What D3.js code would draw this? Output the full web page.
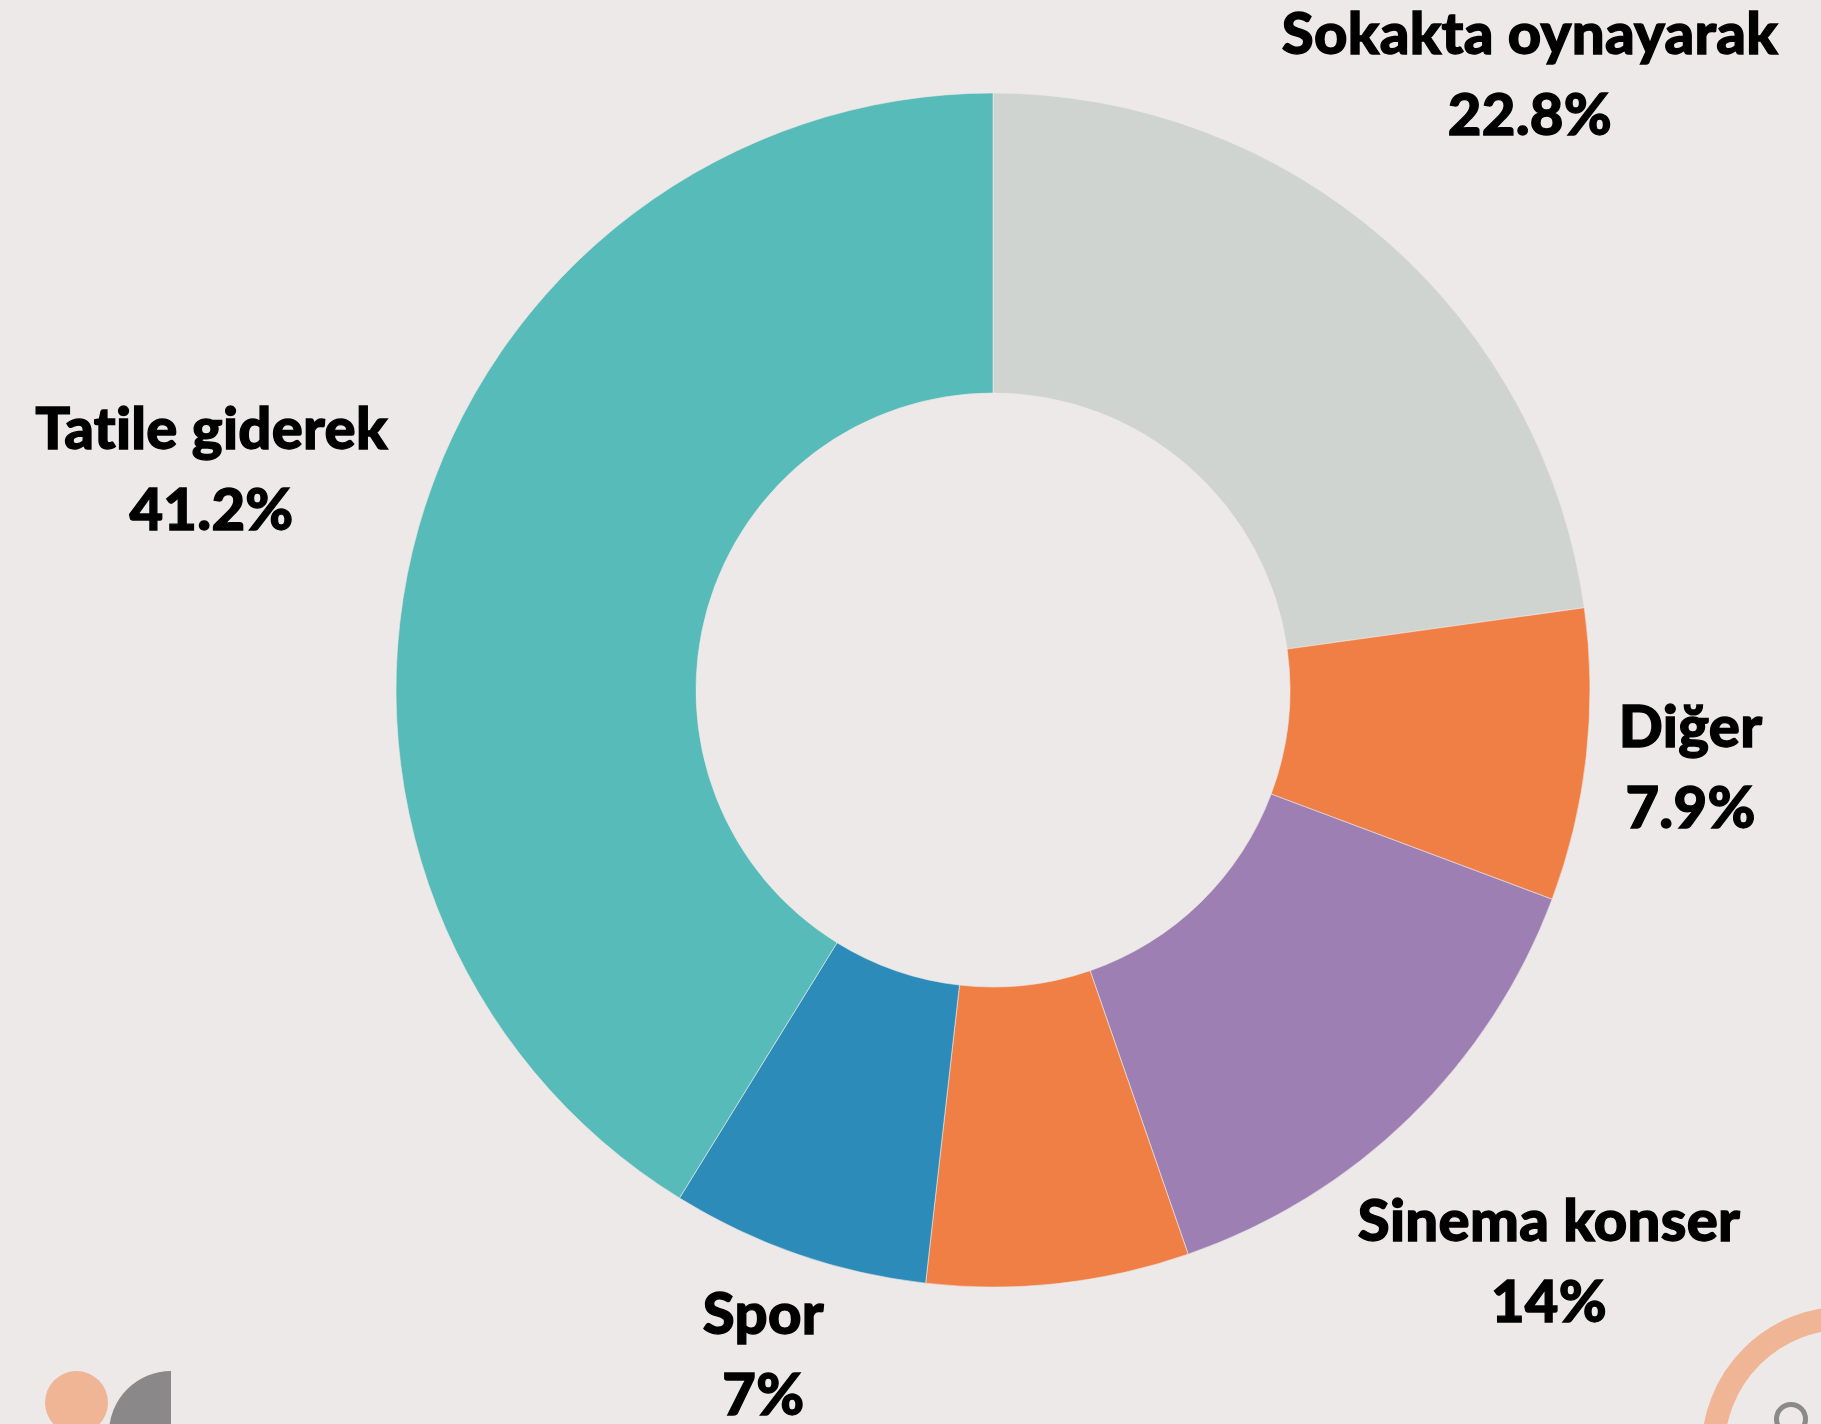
<!DOCTYPE html>
<html>
<head>
<meta charset="utf-8">
<script src="https://cdn.jsdelivr.net/npm/d3@7"></script>
<style>
  html, body { margin: 0; padding: 0; background: #ede9e8; }
  svg { display: block; }
  text { font-family: "Lato", "Noto Sans", sans-serif; font-weight: 900; fill: #000;
         stroke: #000; stroke-width: 1.3; paint-order: stroke;
         font-variant-ligatures: none; font-feature-settings: "liga" 0; letter-spacing: 0.3px; }
</style>
</head>
<body>
<svg id="chart" width="1821" height="1424"></svg>
<script>
const categories = ["Sokakta oynayarak", "Diğer", "Sinema konser", "", "Spor", "Tatile giderek"];
const values = [22.8, 7.9, 14, 7.1, 7, 41.2];
const valueLabels = ["22.8%", "7.9%", "14%", "", "7%", "41.2%"];
const colors = ["#d0d4d0", "#f07f45", "#9d7fb3", "#f07f45", "#2d8bb9", "#57bcb9"];

const W = 1821, H = 1424;
const cx = 993, cy = 690;
const outerR = 597, innerR = 297;
const labelR = 626;
const fontSize = 58;
const lineGap = 81;

const svg = d3.select("#chart");
svg.append("rect").attr("width", W).attr("height", H).attr("fill", "#ede9e8");

const data = categories.map((c, i) => ({ name: c, value: values[i], label: valueLabels[i], color: colors[i] }));

const pie = d3.pie().value(d => d.value).sort(null);
const arcs = pie(data);
const arc = d3.arc().innerRadius(innerR).outerRadius(outerR);

const g = svg.append("g").attr("transform", `translate(${cx},${cy})`);
g.selectAll("path.slice").data(arcs).join("path")
  .attr("class", "slice")
  .attr("d", arc)
  .attr("fill", d => d.data.color)
  .attr("stroke", "#ede9e8")
  .attr("stroke-width", 0.6);

// labels
const capH = fontSize * 0.72;
arcs.forEach(a => {
  if (!a.data.name) return;
  const lg = g.append("g");
  const t1 = lg.append("text").attr("text-anchor", "middle").attr("font-size", fontSize).attr("y", 0).text(a.data.name);
  const t2 = lg.append("text").attr("text-anchor", "middle").attr("font-size", fontSize).attr("y", lineGap).text(a.data.label);
  const w = Math.max(t1.node().getComputedTextLength(), t2.node().getComputedTextLength());
  const hw = w / 2;
  const hh = (lineGap + capH) / 2;
  const yOff = (lineGap - capH) / 2; // ink box center relative to first baseline
  const mid = (a.startAngle + a.endAngle) / 2;
  const dx = Math.sin(mid), dy = -Math.cos(mid);
  const dist = t => {
    const bx = Math.abs(t * dx) - hw, by = Math.abs(t * dy) - hh;
    return Math.hypot(Math.max(0, bx), Math.max(0, by));
  };
  let lo = 0, hi = 2000;
  for (let k = 0; k < 60; k++) {
    const m = (lo + hi) / 2;
    if (dist(m) < labelR) lo = m; else hi = m;
  }
  const bxc = lo * dx, byc = lo * dy;
  lg.attr("transform", `translate(${bxc},${byc - yOff})`);
});

// decorations
const deco = svg.append("g");
deco.append("circle").attr("cx", 76.5).attr("cy", 1402.5).attr("r", 31.5).attr("fill", "#efb594");
deco.append("path")
  .attr("transform", "translate(171,1433)")
  .attr("d", d3.arc().innerRadius(0).outerRadius(62).startAngle(-Math.PI / 2).endAngle(0)())
  .attr("fill", "#8a8889");
deco.append("circle").attr("cx", 1845).attr("cy", 1450).attr("r", 132).attr("fill", "none")
  .attr("stroke", "#efb594").attr("stroke-width", 23);
deco.append("circle").attr("cx", 1791).attr("cy", 1419).attr("r", 14.5).attr("fill", "none")
  .attr("stroke", "#8a8a8a").attr("stroke-width", 5);
</script>
</body>
</html>
